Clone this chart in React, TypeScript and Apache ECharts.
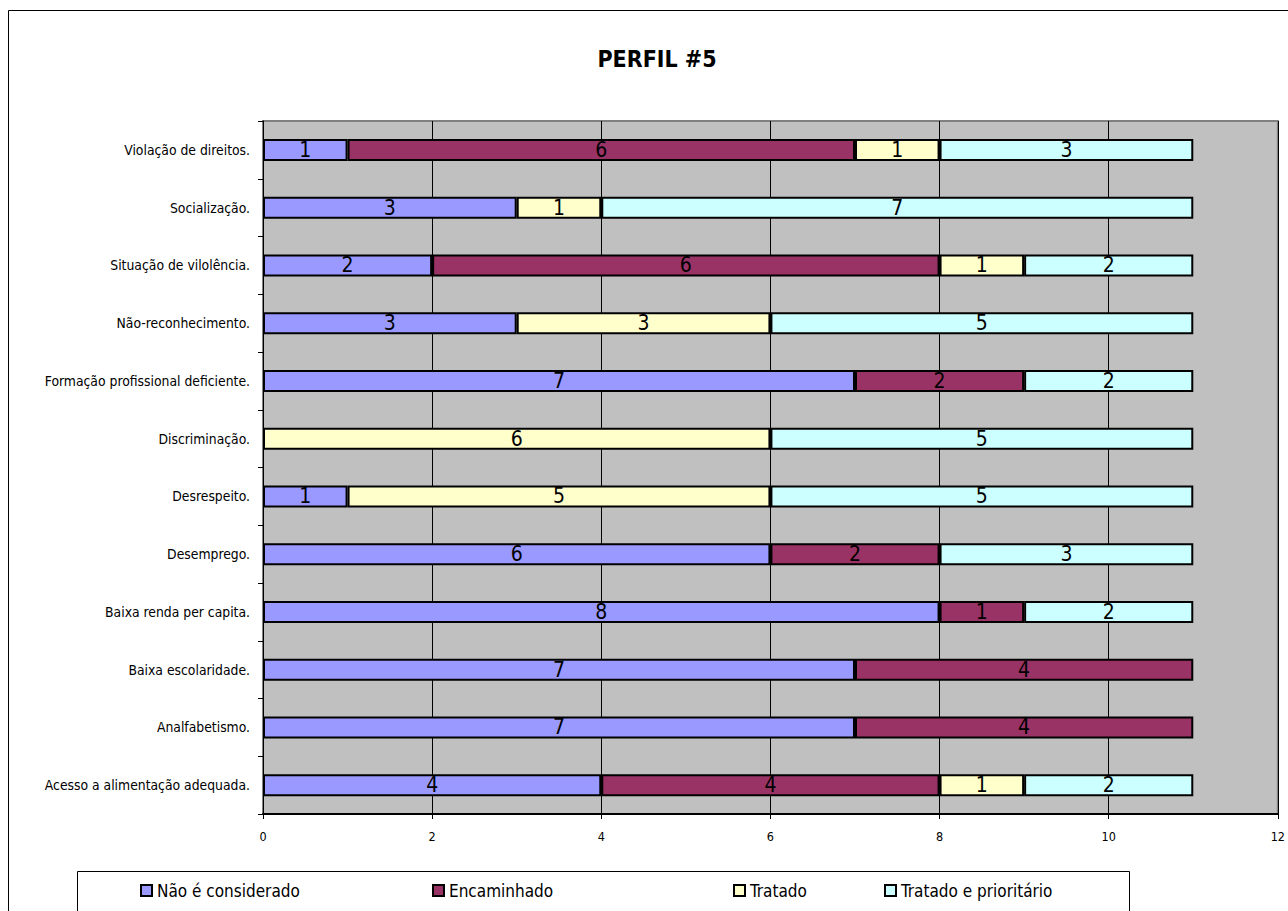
import React, { useEffect, useRef } from "react";
import * as echarts from "echarts";

const categories = [
  "Acesso a alimentação adequada.",
  "Analfabetismo.",
  "Baixa escolaridade.",
  "Baixa renda per capita.",
  "Desemprego.",
  "Desrespeito.",
  "Discriminação.",
  "Formação profissional deficiente.",
  "Não-reconhecimento.",
  "Situação de vilolência.",
  "Socialização.",
  "Violação de direitos.",
];

const naoConsiderado = [4, 7, 7, 8, 6, 1, null, 7, 3, 2, 3, 1];
const encaminhado = [4, 4, 4, 1, 2, null, null, 2, null, 6, null, 6];
const tratado = [1, null, null, null, null, 5, 6, null, 3, 1, 1, 1];
const tratadoPrioritario = [2, null, null, 2, 3, 5, 5, 2, 5, 2, 7, 3];

const seriesNames = ["Não é considerado", "Encaminhado", "Tratado", "Tratado e prioritário"];
const seriesColors = ["#9999FF", "#993366", "#FFFFCC", "#CCFFFF"];
const seriesData = [naoConsiderado, encaminhado, tratado, tratadoPrioritario];

const xMin = 0;
const xMax = 12;
const xInterval = 2;

const FONT = "'DejaVu Sans Condensed', 'DejaVu Sans', sans-serif";

export default function App() {
  const ref = useRef<HTMLDivElement>(null);

  useEffect(() => {
    if (!ref.current) return;
    const chart = echarts.init(ref.current, null, { renderer: "svg" });

    const legendLefts = [140, 432, 733, 884];

    const option: any = {
      animation: false,
      backgroundColor: "#FFFFFF",
      textStyle: { fontFamily: FONT },
      title: {
        text: "PERFIL #5",
        left: 652,
        top: 42,
        textAlign: "center",
        textStyle: { fontFamily: FONT, fontSize: 23, fontWeight: "bold", color: "#000" },
      },
      legend: seriesNames.map((n, i) => ({
        data: [n],
        left: legendLefts[i],
        top: 882,
        padding: 0,
        itemWidth: 11,
        itemHeight: 11,
        icon: "rect",
        itemStyle: { borderColor: "#000", borderWidth: 2 },
        textStyle: { fontFamily: FONT, fontSize: 17, color: "#000" },
        selectedMode: false,
      })),
      grid: {
        left: 263,
        top: 121,
        right: 10,
        bottom: 97,
        show: true,
        backgroundColor: "#C0C0C0",
        borderColor: "#808080",
        borderWidth: 2,
        containLabel: false,
      },
      xAxis: {
        type: "value",
        min: xMin,
        max: xMax,
        interval: xInterval,
        axisLine: { show: true, lineStyle: { color: "#000", width: 2 } },
        axisTick: { show: true, length: 5, lineStyle: { color: "#000" } },
        axisLabel: { fontFamily: FONT, fontSize: 12.5, color: "#000", margin: 16 },
        splitLine: { show: true, lineStyle: { color: "#000", width: 1 } },
      },
      yAxis: {
        type: "category",
        data: categories,
        axisLine: { show: true, lineStyle: { color: "#000", width: 1 } },
        axisTick: { show: true, length: 5, lineStyle: { color: "#000" } },
        axisLabel: { fontFamily: FONT, fontSize: 13.8, color: "#000", margin: 13 },
        splitLine: { show: false },
      },
      series: seriesNames.map((n, i) => ({
        name: n,
        type: "bar",
        stack: "total",
        data: seriesData[i],
        barWidth: 22,
        itemStyle: { color: seriesColors[i], borderColor: "#000", borderWidth: 2 },
        label: {
          show: true,
          position: "inside",
          fontFamily: FONT,
          fontSize: 21,
          color: "#000",
          formatter: (p: any) => (p.value == null ? "" : String(p.value)),
        },
      })),
      graphic: [
        {
          type: "rect",
          shape: { x: 8.5, y: 10.5, width: 1400, height: 1000 },
          style: { fill: "none", stroke: "#000", lineWidth: 1 },
          silent: true,
          z: -1,
        },
        {
          type: "rect",
          shape: { x: 77.5, y: 871.5, width: 1052, height: 100 },
          style: { fill: "none", stroke: "#000", lineWidth: 1 },
          silent: true,
          z: -1,
        },
      ],
    };

    chart.setOption(option);
    return () => chart.dispose();
  }, []);

  return (
    <div
      ref={ref}
      style={{ position: "absolute", left: 0, top: 0, width: 1288, height: 911, background: "#fff" }}
    />
  );
}
